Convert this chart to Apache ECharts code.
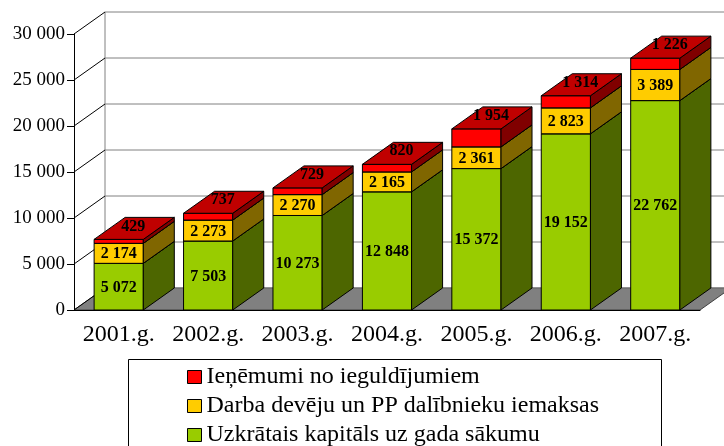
<!DOCTYPE html>
<html>
<head>
<meta charset="utf-8">
<script src="https://cdn.jsdelivr.net/npm/echarts@6/dist/echarts.min.js"></script>
<style>
  html, body { margin: 0; padding: 0; background: #fff; }
  #chart { width: 724px; height: 446px; }
</style>
</head>
<body>
<div id="chart"></div>
<script>
// dati
var years = ['2001.g.', '2002.g.', '2003.g.', '2004.g.', '2005.g.', '2006.g.', '2007.g.']
var kapitals = [5072, 7503, 10273, 12848, 15372, 19152, 22762]
var iemaksas = [2174, 2273, 2270, 2165, 2361, 2823, 3389]
var ienemumi = [429, 737, 729, 820, 1954, 1314, 1226]
var yMin = 0, yMax = 30000, yStep = 5000

var names = ['Uzkrātais kapitāls uz gada sākumu', 'Darba devēju un PP dalībnieku iemaksas', 'Ieņēmumi no ieguldījumiem']
var DX = 31, DY = -22  // 3D dziļums

function fmt(v) {
  return String(v).replace(/\B(?=(\d{3})+(?!\d))/g, ' ')
}

// stack the three series by hand (custom series)
function stacked(values, below) {
  return values.map(function (v, i) {
    var base = 0
    below.forEach(function (arr) { base += arr[i] })
    return [i, base, base + v, v]
  })
}

function makeSeg(colors, onTop) {
  return function (params, api) {
    var i = api.value(0), lo = api.value(1), hi = api.value(2), v = api.value(3)
    var band = api.size([1, 0])[0]
    var w = band * 0.55
    var pt = api.coord([i, hi]), pb = api.coord([i, lo])
    var x0 = pt[0] - w / 2, x1 = x0 + w
    var yt = pt[1], yb = pb[1]
    var stroke = { stroke: '#000', lineWidth: 1 }
    var label = { type: 'text', style: { text: fmt(v), font: 'bold 16px "Liberation Serif"', fill: '#000' } }
    var front = {
      type: 'rect',
      shape: { x: x0, y: yt, width: w, height: yb - yt },
      style: Object.assign({ fill: colors[0] }, stroke)
    }
    var side = {
      type: 'polygon',
      shape: { points: [[x1, yb], [x1 + DX, yb + DY], [x1 + DX, yt + DY], [x1, yt]] },
      style: Object.assign({ fill: colors[1] }, stroke)
    }
    var top = {
      type: 'polygon',
      shape: { points: [[x0, yt], [x1, yt], [x1 + DX, yt + DY], [x0 + DX, yt + DY]] },
      style: Object.assign({ fill: colors[2] }, stroke)
    }
    if (onTop) {
      top.textContent = label
      top.textConfig = { position: 'inside', offset: [-1, -2] }
    } else {
      front.textContent = label
      front.textConfig = { position: 'inside', offset: [0, 1] }
    }
    return { type: 'group', children: [front, side, top] }
  }
}

function renderWalls(params, api) {
  var children = []
  var p0 = api.coord([0, yMin])
  var band = api.size([1, 0])[0]
  var xL = p0[0] - band / 2, xR = xL + band * years.length
  var yB = p0[1]
  var yT = api.coord([0, yMax])[1]
  // grīda
  children.push({
    type: 'polygon',
    shape: { points: [[xL, yB], [xR, yB], [xR + DX, yB + DY], [xL + DX, yB + DY]] },
    style: { fill: '#808080', stroke: '#404040', lineWidth: 1 }
  })
  // aizmugurējā siena
  children.push({
    type: 'line',
    shape: { x1: xL + DX, y1: yB + DY, x2: xL + DX, y2: yT + DY },
    style: { stroke: '#808080', lineWidth: 1 }
  })
  for (var t = yMin; t <= yMax; t += yStep) {
    var y = api.coord([0, t])[1]
    children.push({
      type: 'line',
      shape: { x1: xL + DX, y1: y + DY, x2: xR + DX, y2: y + DY },
      style: { stroke: '#808080', lineWidth: 1 }
    })
    children.push({
      type: 'line',
      shape: { x1: xL, y1: y, x2: xL + DX, y2: y + DY },
      style: { stroke: '#000', lineWidth: 1 }
    })
  }
  return { type: 'group', children: children }
}

var chart = echarts.init(document.getElementById('chart'))
chart.setOption({
  animation: false,
  backgroundColor: '#fff',
  grid: { left: 74, right: 24, top: 34, bottom: 136 },
  // legend frame (runs past the bottom edge like the original)
  graphic: {
    elements: [{
      type: 'rect',
      shape: { x: 128.5, y: 359.5, width: 533, height: 120 },
      style: { fill: 'transparent', stroke: '#000', lineWidth: 1 },
      silent: true
    }]
  },
  legend: {
    data: [names[2], names[1], names[0]],
    orient: 'vertical',
    left: 128,
    top: 359,
    height: 200,
    padding: [6, 0, 0, 59],
    borderWidth: 0,
    itemGap: 5,
    itemWidth: 14,
    itemHeight: 13,
    icon: 'rect',
    selectedMode: false,
    itemStyle: { borderColor: '#000', borderWidth: 1 },
    textStyle: { fontFamily: 'Liberation Serif', fontSize: 24, color: '#000', lineHeight: 23 }
  },
  xAxis: {
    type: 'category',
    data: years,
    z: 10,
    axisLine: { lineStyle: { color: '#000', width: 1 } },
    axisTick: { length: 6, lineStyle: { color: '#000' } },
    axisLabel: { fontFamily: 'Liberation Serif', fontSize: 24, color: '#000', margin: 13, interval: 0 }
  },
  yAxis: {
    type: 'value',
    min: yMin,
    max: yMax,
    interval: yStep,
    z: 10,
    axisLine: { show: true, lineStyle: { color: '#000', width: 1 } },
    axisTick: { show: true, length: 7, lineStyle: { color: '#000' } },
    splitLine: { show: false },
    axisLabel: { fontFamily: 'Liberation Serif', fontSize: 19, color: '#000', margin: 9, formatter: fmt }
  },
  series: [
    { type: 'custom', name: 'walls', z: 1, silent: true, renderItem: renderWalls, data: [[0, 0]] },
    {
      type: 'custom', name: names[0], z: 2, renderItem: makeSeg(['#99CC00', '#4D6600', '#7A9F00'], false),
      itemStyle: { color: '#99CC00' }, encode: { x: 0, y: 2 },
      data: stacked(kapitals, [])
    },
    {
      type: 'custom', name: names[1], z: 3, renderItem: makeSeg(['#FFCC00', '#806600', '#CCA300'], false),
      itemStyle: { color: '#FFCC00' }, encode: { x: 0, y: 2 },
      data: stacked(iemaksas, [kapitals])
    },
    {
      type: 'custom', name: names[2], z: 4, renderItem: makeSeg(['#FF0000', '#800000', '#C00000'], true),
      itemStyle: { color: '#FF0000' }, encode: { x: 0, y: 2 },
      data: stacked(ienemumi, [kapitals, iemaksas])
    }
  ]
})
</script>
</body>
</html>
